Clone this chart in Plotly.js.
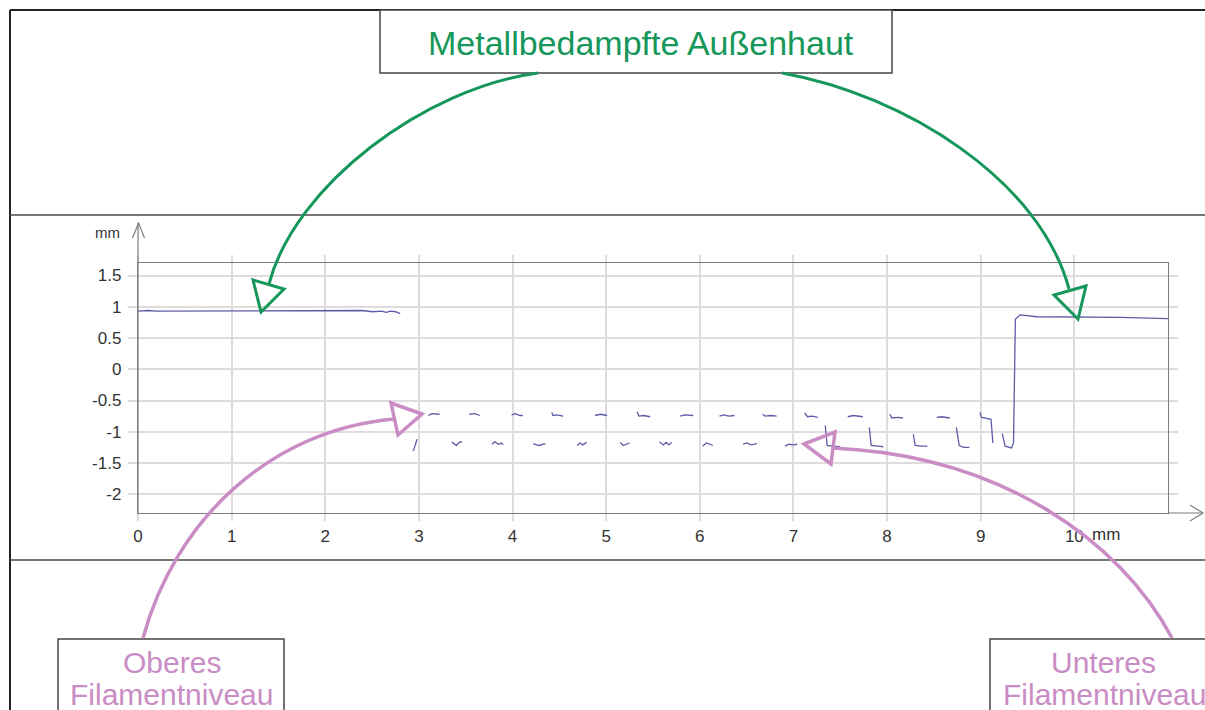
<!DOCTYPE html>
<html>
<head>
<meta charset="utf-8">
<script src="https://cdn.plot.ly/plotly-3.0.1.min.js"></script>
<style>html,body{margin:0;padding:0;background:#fff;overflow:hidden}</style>
</head>
<body>
<div id="chart" style="width:1205px;height:710px"></div>
<script>
// ---- data ----
const skinLeftX = [0, 0.1, 0.2, 0.4, 0.6, 0.8, 1.0, 1.2, 1.4, 1.6, 1.8, 2.0, 2.2, 2.4, 2.5, 2.6, 2.65, 2.7, 2.75, 2.8];
const skinLeftY = [0.93, 0.94, 0.93, 0.93, 0.94, 0.93, 0.93, 0.94, 0.93, 0.93, 0.94, 0.93, 0.93, 0.94, 0.92, 0.93, 0.91, 0.93, 0.92, 0.89];

const upperX = [3.10,3.14,3.22,null, 3.54,3.60,3.65,null, 3.99,4.03,4.08,4.11,null, 4.42,4.43,4.47,4.54,null, 4.88,4.94,5.01,null, 5.33,5.35,5.40,5.47,null, 5.79,5.84,5.93,null, 6.21,6.26,6.31,6.37,null, 6.67,6.70,6.76,6.82,null, 7.12,7.15,7.20,7.26,null, 7.58,7.64,7.74,null, 8.03,8.05,8.12,8.17,null, 8.53,8.58,8.67,null, 8.99,9.01,9.11,9.12,9.13];
const upperY = [-0.74,-0.71,-0.72,null, -0.72,-0.71,-0.74,null, -0.73,-0.71,-0.74,-0.74,null, -0.69,-0.74,-0.73,-0.75,null, -0.74,-0.72,-0.74,null, -0.68,-0.75,-0.74,-0.76,null, -0.75,-0.73,-0.74,null, -0.75,-0.73,-0.75,-0.74,null, -0.72,-0.75,-0.74,-0.75,null, -0.70,-0.76,-0.75,-0.77,null, -0.76,-0.74,-0.76,null, -0.72,-0.78,-0.77,-0.78,null, -0.77,-0.76,-0.78,null, -0.69,-0.77,-0.80,-1.00,-1.18];

const lowerX = [2.94,2.98,null, 3.35,3.40,3.43,3.46,null, 3.78,3.81,3.85,3.88,3.90,null, 4.22,4.28,4.35,null, 4.69,4.72,4.75,4.79,null, 5.15,5.18,5.25,null, 5.57,5.61,5.64,5.67,5.70,null, 6.03,6.07,6.14,null, 6.46,6.50,6.55,6.61,null, 6.91,6.95,7.00,7.04,null, 7.34,7.36,7.42,7.50,null, 7.81,7.83,7.90,7.96,null, 8.28,8.30,8.36,8.43,null, 8.74,8.77,8.82,8.88];
const lowerY = [-1.31,-1.12,null, -1.16,-1.22,-1.17,-1.16,null, -1.20,-1.16,-1.20,-1.18,-1.21,null, -1.19,-1.22,-1.19,null, -1.22,-1.18,-1.21,-1.17,null, -1.17,-1.22,-1.18,null, -1.16,-1.21,-1.17,-1.21,-1.17,null, -1.23,-1.18,-1.22,null, -1.20,-1.18,-1.21,-1.19,null, -1.23,-1.20,-1.21,-1.20,null, -0.90,-1.22,-1.23,-1.24,null, -0.93,-1.22,-1.23,-1.24,null, -1.04,-1.22,-1.23,-1.23,null, -0.93,-1.22,-1.25,-1.25];

const skinRightX = [9.23, 9.26, 9.33, 9.35, 9.37, 9.42, 9.6, 10.0, 10.5, 11.0];
const skinRightY = [-1.03, -1.23, -1.26, -1.18, 0.80, 0.87, 0.84, 0.84, 0.83, 0.81];

const xTickVals = [0,1,2,3,4,5,6,7,8,9,10];
const xTickText = ['0','1','2','3','4','5','6','7','8','9','10'];
const yTickVals = [1.5,1,0.5,0,-0.5,-1,-1.5,-2];
const yTickText = ['1.5','1','0.5','0','-0.5','-1','-1.5','-2'];

const titleTop = 'Metallbedampfte Außenhaut';
const labelUpper = ['Oberes', 'Filamentniveau'];
const labelLower = ['Unteres', 'Filamentniveau'];
const unitLabel = 'mm';

// ---- layout helpers (pixel -> paper) ----
const L = 138, R = 1168, T = 263, B = 513;
const W = R - L, H = B - T;
const px = x => (x - L) / W;
const py = y => (B - y) / H;
const pt = (x, y) => px(x).toFixed(5) + ',' + py(y).toFixed(5);

const FONT = 'Liberation Sans, Arial, sans-serif';
const GREEN = '#16975a';
const PINK = '#c98cc4';
const AX = '#7d7d7d';
const GRID = '#e0dbde';
const LINE = '#5c5ca8';

function lineShape(x0, y0, x1, y1, color, width) {
  return {type:'line', xref:'paper', yref:'paper', x0:px(x0), y0:py(y0), x1:px(x1), y1:py(y1),
          line:{color:color, width:width}, layer:'above'};
}
function pathShape(d, color, width, fill) {
  return {type:'path', xref:'paper', yref:'paper', path:d,
          line:{color:color, width:width}, fillcolor: fill || 'rgba(0,0,0,0)', layer:'above'};
}
function rectShape(x0, y0, x1, y1, color, width) {
  return {type:'rect', xref:'paper', yref:'paper', x0:px(x0), y0:py(y1), x1:px(x1), y1:py(y0),
          line:{color:color, width:width}, fillcolor:'#ffffff', layer:'above'};
}
function curve(p0, c1, c2, p1) {
  return 'M' + pt(p0[0],p0[1]) + ' C' + pt(c1[0],c1[1]) + ' ' + pt(c2[0],c2[1]) + ' ' + pt(p1[0],p1[1]);
}
function tri(a, b, c) {
  return 'M' + pt(a[0],a[1]) + ' L' + pt(b[0],b[1]) + ' L' + pt(c[0],c[1]) + ' Z';
}

const shapes = [
  // frame
  lineShape(10, 10, 1210, 10, '#222', 2),
  lineShape(10, 10, 10, 715, '#222', 2),
  lineShape(10, 215, 1210, 215, '#4a4a4a', 1.5),
  lineShape(10, 560, 1210, 560, '#4a4a4a', 1.5),
  // axis extensions with arrows
  lineShape(138, 513, 138, 223, AX, 1.2),
  pathShape('M' + pt(132.5,238) + ' L' + pt(138.5,223) + ' L' + pt(144.5,238), AX, 1.2),
  lineShape(1168, 513, 1202, 513, AX, 1.2),
  pathShape('M' + pt(1190,505) + ' L' + pt(1203,513) + ' L' + pt(1190,521), AX, 1.2),
  // boxes
  rectShape(380, 10, 892, 73, '#444', 1.5),
  rectShape(58, 639, 284, 715, '#444', 1.5),
  rectShape(990, 639, 1215, 715, '#444', 1.5),
  // green arrows
  pathShape(curve([538,73],[425,88],[295,185],[269,284]), GREEN, 3),
  pathShape(tri([261,312],[253,280],[284,289]), GREEN, 3),
  pathShape(curve([782,73],[905,95],[1040,180],[1069,289]), GREEN, 3),
  pathShape(tri([1078,319],[1054,295],[1086,286]), GREEN, 3),
  // pink arrows
  pathShape(curve([143,638],[175,520],[270,430],[394,419]), PINK, 3.5),
  pathShape(tri([422,414],[391,403],[398,435]), PINK, 3.5),
  pathShape(curve([1172,638],[1120,540],[1000,455],[832,448]), PINK, 3.5),
  pathShape(tri([804,444],[835,432],[831,464]), PINK, 3.5)
];

function textAnn(text, x, y, size, color, xanchor) {
  return {text:text, xref:'paper', yref:'paper', x:px(x), y:py(y), showarrow:false,
          xanchor:xanchor || 'center', yanchor:'middle', font:{family:FONT, size:size, color:color}};
}

const annotations = [
  textAnn(titleTop, 641, 43, 34, GREEN),
  textAnn(labelUpper[0], 172, 662, 30, PINK),
  textAnn(labelUpper[1], 171, 694, 30, PINK),
  textAnn(labelLower[0], 1103, 662, 30, PINK),
  textAnn(labelLower[1], 1104, 694, 30, PINK),
  textAnn(unitLabel, 107, 233, 15, '#333'),
  textAnn(unitLabel, 1090, 534, 17, '#333', 'left')
];

const traceStyle = {mode:'lines', line:{color:LINE, width:1.3}, connectgaps:false, hoverinfo:'skip', showlegend:false};
const data = [
  Object.assign({x:skinLeftX, y:skinLeftY}, traceStyle),
  Object.assign({x:upperX, y:upperY}, traceStyle),
  Object.assign({x:lowerX, y:lowerY}, traceStyle),
  Object.assign({x:skinRightX, y:skinRightY}, traceStyle)
];

const layout = {
  width:1205, height:710, autosize:false,
  margin:{l:L, r:1205 - R, t:T, b:710 - B, pad:0},
  paper_bgcolor:'#ffffff', plot_bgcolor:'#ffffff',
  font:{family:FONT, size:17, color:'#333'},
  xaxis:{range:[0,11], tickvals:xTickVals, ticktext:xTickText, showgrid:true, gridcolor:GRID, gridwidth:2,
         zeroline:false, showline:true, linecolor:AX, linewidth:1.2, mirror:'ticks',
         ticks:'outside', ticklen:7, tickcolor:GRID, tickwidth:2, tickfont:{family:FONT, size:17, color:'#333'}, fixedrange:true},
  yaxis:{range:[-2.3,1.7], tickvals:yTickVals, ticktext:yTickText, showgrid:true, gridcolor:GRID, gridwidth:2,
         zeroline:false, showline:true, linecolor:AX, linewidth:1.2, mirror:'ticks',
         ticks:'outside', ticklen:9, tickcolor:GRID, tickwidth:2, ticklabelstandoff:3,
         tickfont:{family:FONT, size:17, color:'#333'}, fixedrange:true},
  shapes:shapes,
  annotations:annotations
};

Plotly.newPlot('chart', data, layout, {staticPlot:true, displayModeBar:false});
</script>
</body>
</html>
